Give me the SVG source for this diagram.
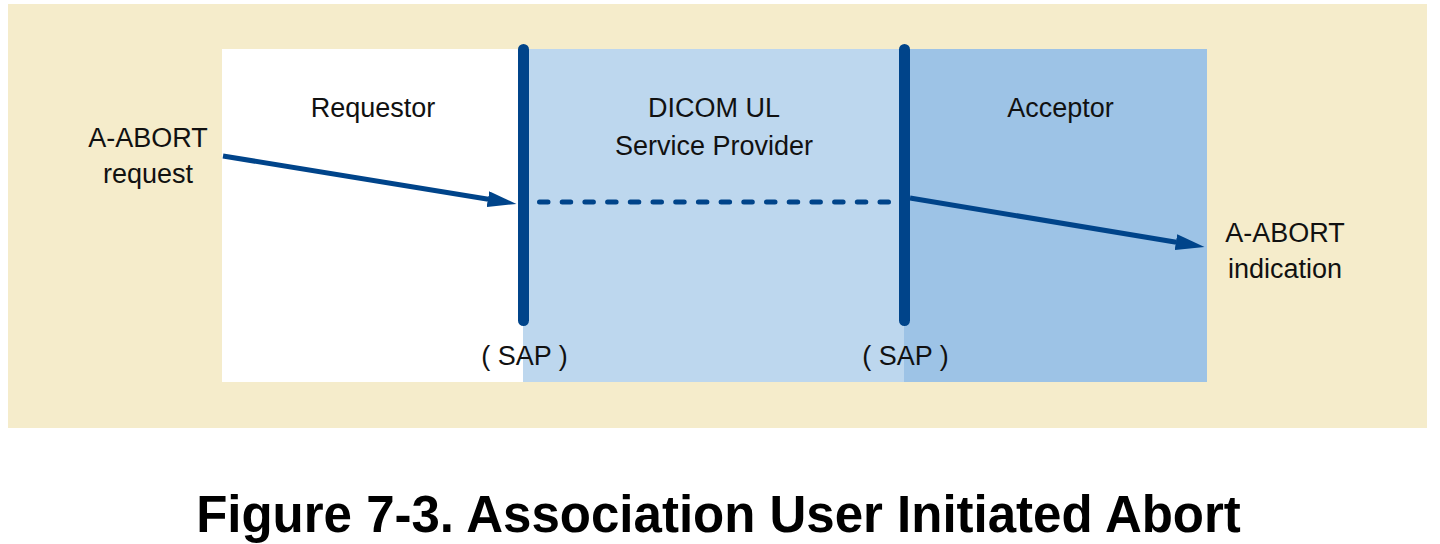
<svg xmlns="http://www.w3.org/2000/svg" width="1440" height="544" viewBox="0 0 1440 544">
  <defs>
    <style>
      .lbl { font-family: "Liberation Sans", Arial, sans-serif; font-size: 27px; fill: #111111; text-anchor: middle; }
      .title { font-family: "Liberation Sans", Arial, sans-serif; font-size: 51px; font-weight: bold; fill: #000000; text-anchor: middle; }
      .sap { stroke: #00448A; stroke-width: 11; stroke-linecap: round; fill: none; }
      .arrow { stroke: #00448A; stroke-width: 5; fill: none; }
      .dash { stroke: #00448A; stroke-width: 5; stroke-linecap: round; stroke-dasharray: 8.5 14.2; fill: none; }
    </style>
    <marker id="ah" viewBox="0 0 30 16" refX="0.5" refY="8" markerWidth="30" markerHeight="16" markerUnits="userSpaceOnUse" orient="auto">
      <path d="M0,0 L29,8 L0,16 z" fill="#00448A"/>
    </marker>
  </defs>

  <rect id="background" x="8" y="4" width="1419" height="424" fill="#F5ECCB"/>

  <g id="requestor">
    <rect x="222" y="49" width="301" height="333" fill="#FFFFFF"/>
    <text class="lbl" x="373" y="117">Requestor</text>
  </g>

  <g id="provider">
    <rect x="523" y="49" width="381" height="333" fill="#BDD7EE"/>
    <text class="lbl" x="714" y="117">DICOM UL</text>
    <text class="lbl" x="714" y="155">Service Provider</text>
  </g>

  <g id="acceptor">
    <rect x="904" y="49" width="303" height="333" fill="#9DC3E6"/>
    <text class="lbl" x="1060.5" y="117">Acceptor</text>
  </g>

  <g id="sap-left">
    <line class="sap" x1="523.5" y1="49.5" x2="523.5" y2="320.5"/>
    <text class="lbl" x="524.5" y="365">( SAP )</text>
  </g>

  <g id="sap-right">
    <line class="sap" x1="904.5" y1="49.5" x2="904.5" y2="320.5"/>
    <text class="lbl" x="905.5" y="365">( SAP )</text>
  </g>

  <g id="abort-request">
    <text class="lbl" x="148" y="147">A-ABORT</text>
    <text class="lbl" x="148" y="183">request</text>
  </g>

  <g id="abort-indication">
    <text class="lbl" x="1285" y="242">A-ABORT</text>
    <text class="lbl" x="1285" y="278">indication</text>
  </g>

  <g id="connectors">
    <line class="arrow" x1="223" y1="156" x2="488.4" y2="199.3" marker-end="url(#ah)"/>
    <line class="dash" x1="539.5" y1="202" x2="892" y2="202"/>
    <line class="arrow" x1="910" y1="198" x2="1176.4" y2="242.25" marker-end="url(#ah)"/>
  </g>

  <text id="caption" class="title" x="718.5" y="532">Figure 7-3. Association User Initiated Abort</text>
</svg>
